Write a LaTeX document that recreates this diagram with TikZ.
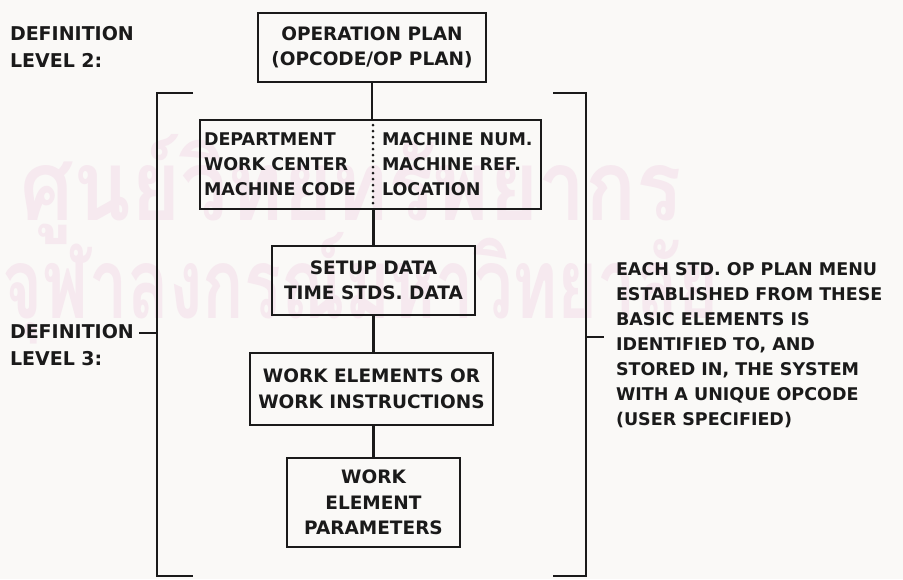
\documentclass[tikz,border=0pt]{standalone}
\usepackage{fontspec}
\setmainfont{DejaVu Sans}
\newfontfamily\thaifont[Script=Thai]{Loma}
\definecolor{paper}{RGB}{250,249,247}
\definecolor{ink}{RGB}{26,26,26}
\definecolor{stamp}{RGB}{246,233,239}
\begin{document}
\begin{tikzpicture}[x=1pt,y=-1pt,
  every node/.style={inner sep=0pt,outer sep=0pt,text=ink,font=\fontsize{18.5}{25.5}\selectfont\bfseries},
  boxnode/.style={draw=ink,line width=2.9pt,align=center},
  rule/.style={draw=ink,line width=2.9pt},
  note/.style={align=left,anchor=west},
  small/.style={font=\fontsize{17.5}{25}\selectfont\bfseries},
  label/.style={font=\fontsize{19}{27}\selectfont\bfseries},
  wm/.style={text=stamp,font=\fontsize{98}{100}\selectfont\thaifont\bfseries,anchor=base west}]
\useasboundingbox[fill=paper] (0,0) rectangle (903,579);

% faint library stamp behind the chart
\node[wm,xscale=0.86] (wm1) at (20,220) {ศูนย์วิทยทรัพยากร};
\node[wm,xscale=0.7] (wm2) at (2,318) {จุฬาลงกรณ์มหาวิทยาลัย};

% chart boxes
\node[boxnode,minimum width=228pt,minimum height=69pt] (plan) at (372,47.5)
  {OPERATION PLAN\\(OPCODE/OP PLAN)};
\node[boxnode,minimum width=341pt,minimum height=89pt] (dept) at (370.5,164.5) {};
\node[note,small] (deptL) at (204,164) {DEPARTMENT\\WORK CENTER\\MACHINE CODE};
\node[note,small] (deptR) at (382,164) {MACHINE NUM.\\MACHINE REF.\\LOCATION};
\node[boxnode,minimum width=203pt,minimum height=69pt] (setup) at (373.5,280.5)
  {SETUP DATA\\TIME STDS. DATA};
\node[boxnode,minimum width=243pt,minimum height=72pt] (work) at (371.5,389)
  {WORK ELEMENTS OR\\WORK INSTRUCTIONS};
\node[boxnode,minimum width=173pt,minimum height=89pt] (param) at (373.5,502.5)
  {WORK\\ELEMENT\\PARAMETERS};

% dotted divider inside the department box
\coordinate (divT) at (373,125);
\coordinate (divB) at (373,207);
\draw[ink,line width=3pt,line cap=round,dash pattern=on 0pt off 6pt] (divT) -- (divB);

% connectors
\draw[rule] (plan.south) -- (plan.south |- dept.north);
\draw[rule] (dept.south -| setup.north) -- (setup.north);
\draw[rule] (setup.south) -- (setup.south |- work.north);
\draw[rule] (work.south -| param.north) -- (param.north);

% brackets
\coordinate (bl1) at (193,93);  \coordinate (bl2) at (157,93);
\coordinate (bl3) at (157,576); \coordinate (bl4) at (193,576);
\coordinate (br1) at (553,93);  \coordinate (br2) at (586,93);
\coordinate (br3) at (586,576); \coordinate (br4) at (553,576);
\draw[rule] (bl1) -- (bl2) -- (bl3) -- (bl4);
\draw[rule] (br1) -- (br2) -- (br3) -- (br4);

% level labels
\node[note,label] (lev2) at (10,46.5) {DEFINITION\\LEVEL 2:};
\node[note,label] (lev3) at (10,345.5) {DEFINITION\\LEVEL 3:};
\coordinate (tl) at (139,333);
\coordinate (tlb) at (157,333);
\draw[rule] (tl) -- (tlb);

% description on the right
\node[note,small] (desc) at (616,345)
  {EACH STD. OP PLAN MENU\\ESTABLISHED FROM THESE\\BASIC ELEMENTS IS\\IDENTIFIED TO, AND\\STORED IN, THE SYSTEM\\WITH A UNIQUE OPCODE\\(USER SPECIFIED)};
\coordinate (trb) at (586,337);
\coordinate (tr) at (604,337);
\draw[rule] (trb) -- (tr);
\end{tikzpicture}
\end{document}
